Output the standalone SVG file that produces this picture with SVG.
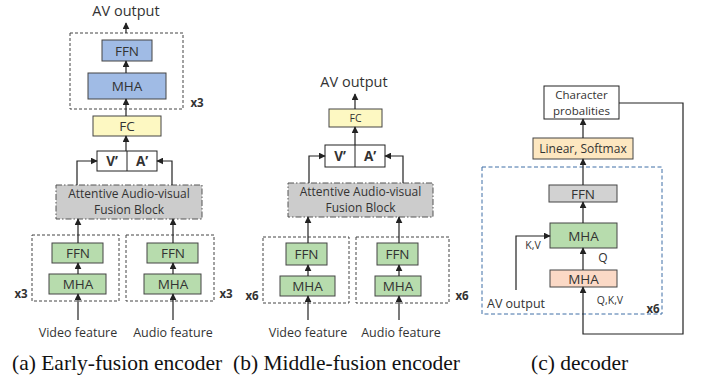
<svg xmlns="http://www.w3.org/2000/svg" width="701" height="385" viewBox="0 0 701 385">
<defs>
<marker id="ah" viewBox="0 0 10 10" refX="9" refY="5" markerWidth="7" markerHeight="7" markerUnits="userSpaceOnUse" orient="auto"><path d="M0,0 L10,5 L0,10 z" fill="#222"/></marker>
<style>
text{font-family:"Open Sans","Noto Sans","DejaVu Sans",sans-serif;fill:#333;text-anchor:middle}
.box{stroke:#444;stroke-width:1}
.blue{fill:#a0bbe5}
.green{fill:#b7dcad}
.yellow{fill:#fdf8c2}
.white{fill:#fff;stroke:#222;stroke-width:1}
.fusion{fill:#cccccc;stroke:#555;stroke-width:1;stroke-dasharray:6 2 1.5 2}
.dash{fill:none;stroke:#444;stroke-width:1;stroke-dasharray:3 2}
.bdash{fill:none;stroke:#3f6ea6;stroke-width:1;stroke-dasharray:4 2.5}
.ca{fill:none;stroke:#222;stroke-width:1.2;marker-end:url(#ah)}
.t13{font-size:13.5px}
.t12{font-size:12.5px}
.fz{font-size:12px}
.lbl{font-size:14.5px}
.x{font-size:11.5px;font-weight:bold;fill:#333}
.cap{font-family:"Liberation Serif","Times New Roman",serif;font-size:21.5px;fill:#111;text-anchor:start}
</style>
</defs>

<!-- ===== Panel (a) ===== -->
<g id="a-out"><text class="lbl" x="126" y="16">AV output</text></g>
<g id="a-dec-stack"><rect class="dash" x="70" y="33" width="113" height="76"/><text class="x" x="197" y="107">x3</text></g>
<g id="a-ffn"><rect class="box blue" x="102" y="40" width="50" height="21"/><text class="t13" x="127" y="55.5">FFN</text></g>
<g id="a-mha"><rect class="box blue" x="88" y="73" width="78" height="26"/><text class="t13" x="127" y="91">MHA</text></g>
<g id="a-fc"><rect class="box yellow" x="93" y="116" width="68" height="20"/><text class="t13" x="127" y="131">FC</text></g>
<g id="a-va"><rect class="white" x="97" y="151" width="60" height="20"/><line x1="127" y1="151" x2="127" y2="171" stroke="#222"/><text class="t13" x="112" y="166" font-weight="bold">V’</text><text class="t13" x="142" y="166" font-weight="bold">A’</text></g>
<g id="a-fusion"><rect class="fusion" x="56" y="185" width="146" height="34"/><text class="fz" x="129" y="197.5">Attentive Audio-visual</text><text class="fz" x="129" y="214">Fusion Block</text></g>
<g id="a-vstack"><rect class="dash" x="32" y="235" width="87" height="66"/><text class="x" x="21" y="298">x3</text></g>
<g id="a-vffn"><rect class="box green" x="52" y="243" width="51" height="20"/><text class="t13" x="78" y="258">FFN</text></g>
<g id="a-vmha"><rect class="box green" x="49" y="274" width="57" height="20"/><text class="t13" x="78" y="289">MHA</text></g>
<g id="a-astack"><rect class="dash" x="126" y="235" width="88" height="66"/><text class="x" x="226" y="298">x3</text></g>
<g id="a-affn"><rect class="box green" x="147" y="243" width="51" height="20"/><text class="t13" x="173" y="258">FFN</text></g>
<g id="a-amha"><rect class="box green" x="144" y="274" width="57" height="20"/><text class="t13" x="173" y="289">MHA</text></g>
<g id="a-vin"><text class="t12" x="78" y="337">Video feature</text></g>
<g id="a-ain"><text class="t12" x="173" y="337">Audio feature</text></g>

<!-- ===== Panel (b) ===== -->
<g id="b-out"><text class="lbl" x="354" y="87">AV output</text></g>
<g id="b-fc"><rect class="box yellow" x="329" y="109" width="53" height="18"/><text x="355.5" y="122" font-size="10.5">FC</text></g>
<g id="b-va"><rect class="white" x="325" y="145" width="60" height="22"/><line x1="355" y1="145" x2="355" y2="167" stroke="#222"/><text class="t13" x="340" y="161" font-weight="bold">V’</text><text class="t13" x="370" y="161" font-weight="bold">A’</text></g>
<g id="b-fusion"><rect class="fusion" x="288" y="183" width="145" height="34"/><text class="fz" x="360.5" y="195.5">Attentive Audio-visual</text><text class="fz" x="360.5" y="212">Fusion Block</text></g>
<g id="b-vstack"><rect class="dash" x="263" y="237" width="86" height="66"/><text class="x" x="252" y="300">x6</text></g>
<g id="b-vffn"><rect class="box green" x="286" y="243" width="41" height="22"/><text class="t13" x="306.5" y="259">FFN</text></g>
<g id="b-vmha"><rect class="box green" x="280" y="276" width="55" height="20"/><text class="t13" x="307.5" y="291">MHA</text></g>
<g id="b-astack"><rect class="dash" x="356" y="237" width="93" height="66"/><text class="x" x="462" y="300">x6</text></g>
<g id="b-affn"><rect class="box green" x="377" y="243" width="41" height="22"/><text class="t13" x="397.5" y="259">FFN</text></g>
<g id="b-amha"><rect class="box green" x="375" y="276" width="46" height="20"/><text class="t13" x="398" y="291">MHA</text></g>
<g id="b-vin"><text class="t12" x="308" y="337">Video feature</text></g>
<g id="b-ain"><text class="t12" x="401" y="337">Audio feature</text></g>

<!-- ===== Panel (c) ===== -->
<g id="c-char"><rect class="white" x="544" y="86" width="75" height="33"/><text font-size="11.5" x="581.5" y="98.5">Character</text><text font-size="11.5" x="581.5" y="114.5">probalities</text></g>
<g id="c-lin"><rect class="box" fill="#fde7c0" x="533" y="138" width="100" height="21"/><text font-size="12" x="583" y="153">Linear, Softmax</text></g>
<g id="c-stack"><rect class="bdash" x="482" y="167" width="180" height="147"/><text class="x" x="653" y="313">x6</text></g>
<g id="c-ffn"><rect class="box" fill="#d2d2d2" x="549" y="185" width="68" height="17"/><text class="t13" x="583" y="198.5">FFN</text></g>
<g id="c-mha2"><rect class="box green" x="550" y="223" width="67" height="25"/><text class="t13" x="583.5" y="240.5">MHA</text></g>
<g id="c-mha1"><rect class="box" fill="#fbd9c6" x="550" y="270" width="67" height="17"/><text class="t13" x="583.5" y="283.5">MHA</text></g>
<g id="c-avout"><text class="t12" x="516" y="308">AV output</text></g>

<!-- ===== Connectors ===== -->
<g id="connectors">
<line class="ca" x1="126" y1="33" x2="126" y2="23"/>
<line class="ca" x1="126" y1="73" x2="126" y2="61"/>
<line class="ca" x1="126" y1="116" x2="126" y2="99"/>
<line class="ca" x1="126" y1="151" x2="126" y2="136"/>
<polyline class="ca" points="77,185 77,161 97,161"/>
<polyline class="ca" points="172,185 172,161 157,161"/>
<line class="ca" x1="78" y1="243" x2="78" y2="219"/>
<line class="ca" x1="78" y1="274" x2="78" y2="263"/>
<line class="ca" x1="78" y1="320" x2="78" y2="294"/>
<line class="ca" x1="173" y1="243" x2="173" y2="219"/>
<line class="ca" x1="173" y1="274" x2="173" y2="263"/>
<line class="ca" x1="173" y1="320" x2="173" y2="294"/>

<line class="ca" x1="355" y1="109" x2="355" y2="94"/>
<line class="ca" x1="355" y1="145" x2="355" y2="127"/>
<polyline class="ca" points="309,183 309,156 325,156"/>
<polyline class="ca" points="403,183 403,156 385,156"/>
<line class="ca" x1="308" y1="243" x2="308" y2="217"/>
<line class="ca" x1="308" y1="276" x2="308" y2="265"/>
<line class="ca" x1="308" y1="320" x2="308" y2="296"/>
<line class="ca" x1="399" y1="243" x2="399" y2="217"/>
<line class="ca" x1="399" y1="276" x2="399" y2="265"/>
<line class="ca" x1="399" y1="320" x2="399" y2="296"/>

<line class="ca" x1="583" y1="138" x2="583" y2="119"/>
<line class="ca" x1="583" y1="185" x2="583" y2="159"/>
<line class="ca" x1="583" y1="223" x2="583" y2="202"/>
<line class="ca" x1="583" y1="270" x2="583" y2="248"/>
<polyline class="ca" points="516,290 516,236 550,236"/>
<polyline class="ca" points="619,103 683,103 683,334 583,334 583,287"/>
</g>
<g id="c-labels">
<text x="533" y="249" font-size="10.5">K,V</text>
<text x="603" y="262" font-size="12">Q</text>
<text x="610" y="304" font-size="10.5">Q,K,V</text>
</g>

<!-- Captions -->
<text class="cap" x="12" y="370">(a) Early-fusion encoder</text>
<text class="cap" x="233" y="370">(b) Middle-fusion encoder</text>
<text class="cap" x="531" y="370">(c) decoder</text>
</svg>
